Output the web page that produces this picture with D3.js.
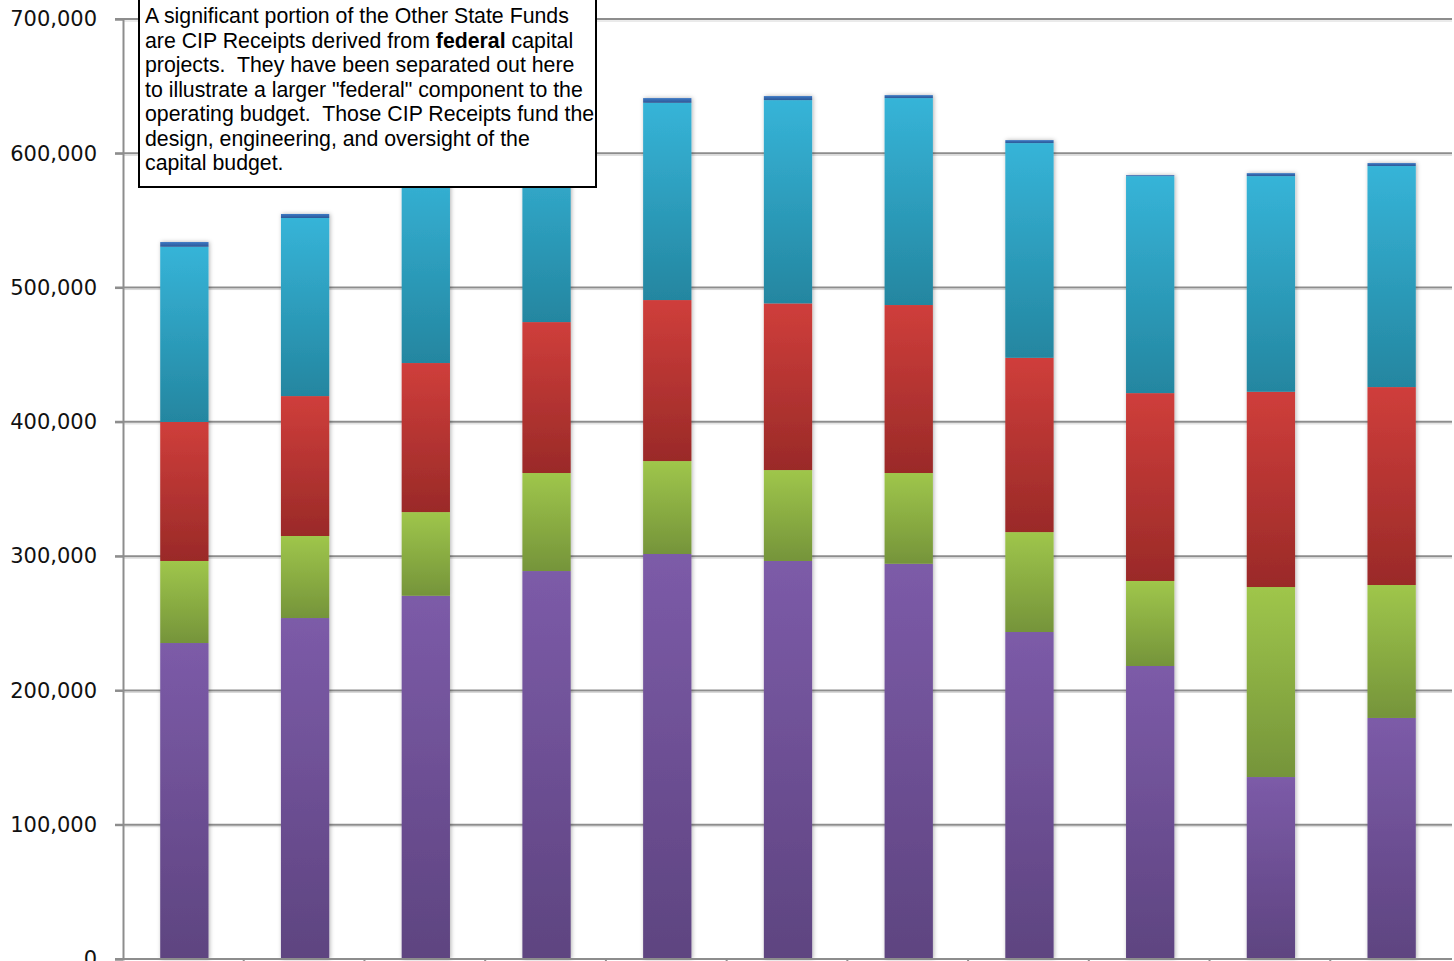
<!DOCTYPE html>
<html>
<head>
<meta charset="utf-8">
<script src="https://cdn.jsdelivr.net/npm/d3@7"></script>
<style>
  html, body { margin: 0; padding: 0; background: #fff; overflow: hidden; }
  text { white-space: pre; }
</style>
</head>
<body>
<script>
const width = 1454
const height = 961

// categorias (etiquetas fuera de la imagen)
const years = ['FY04', 'FY05', 'FY06', 'FY07', 'FY08', 'FY09', 'FY10', 'FY11', 'FY12', 'FY13', 'FY14']

// series, de abajo hacia arriba
const ugf = [235300, 253900, 270500, 288900, 301600, 296400, 294300, 243500, 218200, 135500, 179500]
const dgf = [61100, 61100, 62300, 73000, 69200, 67700, 67600, 74400, 63300, 141500, 99000]
const fed = [103500, 104200, 111000, 112400, 119900, 124100, 125100, 129800, 139900, 145400, 147400]
const cip = [130500, 132600, 150000, 145000, 146900, 151400, 154100, 159900, 161600, 160600, 164600]
const otr = [3500, 3000, 3500, 3500, 3500, 3000, 2200, 2200, 700, 2200, 2200]

const yTicks = [0, 100000, 200000, 300000, 400000, 500000, 600000, 700000]

const keys = ['ugf', 'dgf', 'fed', 'cip', 'otr']
// [arriba, abajo] del degradado
const colores = {
  ugf: ['#7c5ba8', '#5e4480'],
  dgf: ['#9fc64b', '#75943a'],
  fed: ['#cf3e3b', '#9a2a28'],
  cip: ['#36b4d8', '#2486a0'],
  otr: ['#3b78c4', '#2d5896']
}

const nota = [
  [['A significant portion of the Other State Funds', false]],
  [['are CIP Receipts derived from ', false], ['federal', true], [' capital', false]],
  [['projects.  They have been separated out here', false]],
  [['to illustrate a larger "federal" component to the', false]],
  [['operating budget.  Those CIP Receipts fund the', false]],
  [['design, engineering, and oversight of the', false]],
  [['capital budget.', false]]
]

const tabla = years.map((y, i) => ({ year: y, ugf: ugf[i], dgf: dgf[i], fed: fed[i], cip: cip[i], otr: otr[i] }))
const series = d3.stack().keys(keys)(tabla)

const x = d3.scaleBand().domain(years).range([123, 1451])
const y = d3.scaleLinear().domain([0, 700000]).range([959, 19])
const barW = x.bandwidth() * 0.4

const svg = d3.select('body').append('svg').attr('width', width).attr('height', height)
const defs = svg.append('defs')

keys.forEach(k => {
  const g = defs.append('linearGradient').attr('id', 'grad-' + k)
    .attr('x1', 0).attr('y1', 0).attr('x2', 0).attr('y2', 1)
  g.append('stop').attr('offset', '0%').attr('stop-color', colores[k][0])
  g.append('stop').attr('offset', '100%').attr('stop-color', colores[k][1])
})

const f = defs.append('filter').attr('id', 'sombra')
  .attr('x', '-30%').attr('y', '-5%').attr('width', '160%').attr('height', '110%')
f.append('feDropShadow').attr('dx', 1).attr('dy', 0).attr('stdDeviation', 2)
  .attr('flood-color', '#000').attr('flood-opacity', 0.3)

// grilla
const grid = svg.append('g')
grid.selectAll('line.sh').data(yTicks.slice(1)).join('line')
  .attr('class', 'sh')
  .attr('x1', 123).attr('x2', 1452)
  .attr('y1', d => y(d) + 2).attr('y2', d => y(d) + 2)
  .attr('stroke', '#d6d6d6').attr('stroke-width', 1)
grid.selectAll('line.g').data(yTicks.slice(1)).join('line')
  .attr('class', 'g')
  .attr('x1', 115).attr('x2', 1452)
  .attr('y1', d => y(d)).attr('y2', d => y(d))
  .attr('stroke', '#8d8d8d').attr('stroke-width', 2)

// barras
const capas = svg.append('g').attr('filter', 'url(#sombra)')
series.forEach(s => {
  capas.append('g').selectAll('rect').data(s).join('rect')
    .attr('x', d => x(d.data.year) + (x.bandwidth() - barW) / 2 + 1)
    .attr('y', d => y(d[1]))
    .attr('width', barW)
    .attr('height', d => y(d[0]) - y(d[1]))
    .attr('fill', 'url(#grad-' + s.key + ')')
})

// ejes
const ejeY = svg.append('g').attr('transform', 'translate(123,0)')
  .call(d3.axisLeft(y).tickValues(yTicks).tickFormat(d3.format(',')).tickSize(8).tickPadding(18))
ejeY.select('.domain').attr('stroke', '#8d8d8d').attr('stroke-width', 2)
ejeY.selectAll('.tick line').attr('stroke', '#8d8d8d').attr('stroke-width', 2)
ejeY.selectAll('.tick text')
  .attr('font-family', 'DejaVu Sans').attr('font-size', 21).attr('fill', '#111')

const ejeX = svg.append('g').attr('transform', 'translate(0,959)')
ejeX.append('line').attr('x1', 115).attr('x2', 1452).attr('stroke', '#8d8d8d').attr('stroke-width', 2)
ejeX.selectAll('line.t').data(years.slice(1)).join('line')
  .attr('class', 't')
  .attr('x1', d => x(d)).attr('x2', d => x(d))
  .attr('y1', 0).attr('y2', 8)
  .attr('stroke', '#8d8d8d').attr('stroke-width', 2)

// nota
const caja = svg.append('g')
caja.append('rect')
  .attr('x', 139).attr('y', -6).attr('width', 457).attr('height', 193)
  .attr('fill', '#fff').attr('stroke', '#000').attr('stroke-width', 2)
const txt = caja.append('text')
  .attr('font-family', 'Liberation Sans, Arial').attr('font-size', 21.3).attr('fill', '#000')
nota.forEach((linea, i) => {
  linea.forEach((p, j) => {
    const t = txt.append('tspan').text(p[0]).attr('font-weight', p[1] ? 'bold' : 'normal')
    if (j === 0) t.attr('x', 145).attr('y', 23 + i * 24.5)
  })
})
</script>
</body>
</html>
